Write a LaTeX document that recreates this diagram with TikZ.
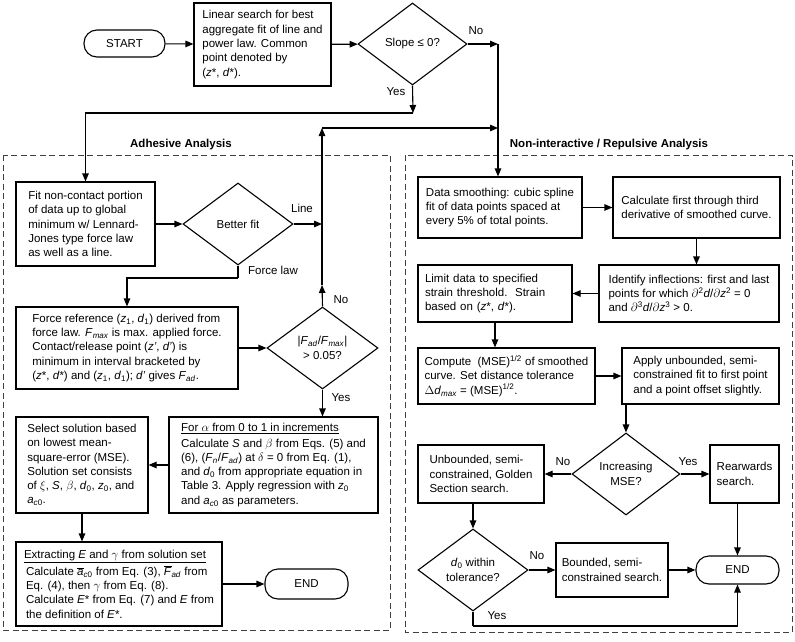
\documentclass[tikz,border=0pt]{standalone}
\usepackage{fontspec}
\setmainfont{Liberation Sans}
\usetikzlibrary{arrows.meta,shapes.geometric}
\newcommand\fs{\fontsize{11.5}{14.3}\selectfont}
\newcommand\iv[1]{\textit{#1}}
\newcommand\sbi[1]{\textsubscript{\textit{#1}}}
\newcommand\sbr[1]{\textsubscript{#1}}
\newcommand\shp[7]{%
  \pgfmathsetmacro\shw{#5-#3}\pgfmathsetmacro\shh{#6-#4}%
  \pgfmathsetmacro\shx{(#3+#5)/2}\pgfmathsetmacro\shy{(#4+#6)/2}%
  \node[#1, minimum width=\shw pt, minimum height=\shh pt] (#2) at (\shx,\shy) {#7};}
\tikzset{
  box/.style={draw, line width=1.1pt, align=left, inner sep=1pt, font=\fs},
  dia/.style={draw, diamond, line width=1.1pt, align=center, inner sep=0pt, font=\fs},
  term/.style={draw, rounded corners=13pt, line width=1.1pt, inner sep=1pt, font=\fs},
  arr/.style={line width=1.1pt, -{Triangle[length=8pt,width=6.5pt]}},
  ln/.style={line width=1.1pt},
  panel/.style={draw=black!75, line width=1pt, dash pattern=on 6pt off 3.5pt},
  lbl/.style={font=\fs, inner sep=0pt},
  ttl/.style={font=\fs\bfseries, inner sep=0pt},
}
\begin{document}
\begin{tikzpicture}[x=1pt,y=-1pt]
\useasboundingbox (0,0) rectangle (795,642);
% panels
\draw[panel] (3,155) rectangle (390,630);
\draw[panel] (405,155) rectangle (792,632);
\node[ttl] (t1) at (181,145) {Adhesive Analysis};
\node[ttl] (t2) at (609,145) {Non-interactive / Repulsive Analysis};
% top row
\shp{term}{start}{84}{30}{165}{57}{START}
\shp{box}{lin}{194}{3}{331}{86}{Linear search for best\\aggregate fit of line and\\power law. Common\\point denoted by\\(\iv{z}*, \iv{d}*).}
\shp{dia}{slope}{358}{3}{467}{85}{Slope ≤ 0?}
% left panel
\shp{box}{fit}{16}{182}{155}{266}{Fit non-contact portion\\of data up to global\\minimum w/ Lennard-\\Jones type force law\\as well as a line.}
\shp{dia}{better}{183}{183}{293}{265}{Better fit}
\shp{box}{force}{16}{307}{238}{389}{Force reference (\iv{z}\sbr{1}, \iv{d}\sbr{1}) derived from\\force law. \iv{F}\sbi{max} is max. applied force.\\Contact/release point (\iv{z'}, \iv{d'}) is\\minimum in interval bracketed by\\(\iv{z}*, \iv{d}*) and (\iv{z}\sbr{1}, \iv{d}\sbr{1}); \iv{d'} gives \iv{F}\sbi{ad}.}
\shp{dia}{fad}{267}{307}{378}{389}{|\iv{F}\sbi{ad}/\iv{F}\sbi{max}|\\> 0.05?}
\shp{box}{alpha}{169}{417}{378}{513}{\underline{For $\alpha$ from 0 to 1 in increments}\\[1pt]Calculate \iv{S} and $\beta$ from Eqs. (5) and\\(6), (\iv{F}\sbi{n}/\iv{F}\sbi{ad}) at $\delta$ = 0 from Eq. (1),\\and \iv{d}\sbr{0} from appropriate equation in\\Table 3. Apply regression with \iv{z}\sbr{0}\\and \iv{a}\textsubscript{\iv{c}0} as parameters.}
\shp{box}{sel}{16}{417}{148}{513}{Select solution based\\on lowest mean-\\square-error (MSE).\\Solution set consists\\of $\xi$, \iv{S}, $\beta$, \iv{d}\sbr{0}, \iv{z}\sbr{0}, and\\\iv{a}\textsubscript{\iv{c}0}.}
\shp{box}{ext}{16}{542}{222}{626}{\underline{Extracting \iv{E} and $\gamma$ from solution set}\\[3pt]\hspace*{2pt}Calculate $\overline{\hbox{\iv{a}}}$\textsubscript{\iv{c}0} from Eq. (3), $\overline{\hbox{\iv{F}}}$\sbi{ad} from\\\hspace*{2pt}Eq. (4), then $\gamma$ from Eq. (8).\\\hspace*{2pt}Calculate \iv{E}* from Eq. (7) and \iv{E} from\\\hspace*{2pt}the definition of \iv{E}*.}
\shp{term}{endA}{265}{569}{348}{599}{END}
% right panel
\shp{box}{data}{418}{177}{582}{238}{Data smoothing: cubic spline\\fit of data points spaced at\\every 5\% of total points.}
\shp{box}{calc}{613}{177}{780}{238}{Calculate first through third\\derivative of smoothed curve.}
\shp{box}{ident}{599}{265}{779}{322}{Identify inflections: first and last\\points for which $\partial$\textsuperscript{2}\iv{d}/$\partial$\iv{z}\textsuperscript{2} = 0\\and $\partial$\textsuperscript{3}\iv{d}/$\partial$\iv{z}\textsuperscript{3} > 0.}
\shp{box, text width=140pt}{limit}{418}{265}{572}{322}{Limit data to specified\\strain threshold.\ \ Strain\\based on (\iv{z}*, \iv{d}*).}
\shp{box}{comp}{418}{348}{595}{404}{Compute\ \ (MSE)\textsuperscript{1/2} of smoothed\\curve. Set distance tolerance\\$\Delta$\iv{d}\sbi{max} = (MSE)\textsuperscript{1/2}.}
\shp{box}{apply}{622}{348}{779}{404}{Apply unbounded, semi-\\constrained fit to first point\\and a point offset slightly.}
\shp{dia}{inc}{572}{433}{680}{515}{Increasing\\MSE?}
\shp{box}{unb}{418}{445}{544}{503}{Unbounded, semi-\\constrained, Golden\\Section search.}
\shp{box}{rear}{710}{445}{779}{503}{Rearwards\\search.}
\shp{dia}{dzero}{418}{529}{528}{611}{\iv{d}\sbr{0} within\\tolerance?}
\shp{box}{bnd}{556}{543}{668}{597}{Bounded, semi-\\constrained search.}
\shp{term}{endB}{696}{556}{779}{584}{END}
% junctions
\coordinate (jn) at (498,44);
\coordinate (jy) at (413,113);
\coordinate (jl) at (322,128);
\coordinate (jr) at (498,128);
\coordinate (jno) at (322,285);
\coordinate (jfl) at (238,278);
\coordinate (jyy) at (473,626);
% connectors top
\draw[arr] (start) -- (lin);
\draw[arr] (lin) -- (slope);
\draw[arr] (slope.east) -- (jn);
\draw[arr] (jn) -- (jn |- data.north);
\draw[arr] (slope.south) -- (jy);
\draw[arr] (jy) -| (fit.north);
% left
\draw[arr] (fit) -- (better);
\draw[arr] (better.east) -- (better.east -| jl);
\draw[ln] (better.south) -- (jfl);
\draw[arr] (jfl) -| (force.north);
\draw[arr] (force) -- (fad);
\draw[arr] (fad.north) -- (jno);
\draw[arr] (jno) -- (jl);
\draw[arr] (jl) -- (jr);
\draw[arr] (fad.south) -- (fad.south |- alpha.north);
\draw[arr] (alpha) -- (sel);
\draw[arr] (sel.south) -- (sel.south |- ext.north);
\draw[arr] (ext) -- (endA);
% right
\draw[arr] (data) -- (calc);
\draw[arr] (calc.south) -- (calc.south |- ident.north);
\draw[arr] (ident) -- (limit);
\draw[arr] (limit.south) -- (limit.south |- comp.north);
\draw[arr] (comp) -- (apply);
\draw[arr] (inc.north |- apply.south) -- (inc.north);
\draw[arr] (inc) -- (unb);
\draw[arr] (inc) -- (rear);
\draw[arr] (dzero.north |- unb.south) -- (dzero.north);
\draw[arr] (dzero) -- (bnd);
\draw[arr] (bnd) -- (endB);
\draw[arr] (endB.north |- rear.south) -- (endB.north);
\draw[ln] (dzero.south) -- (jyy);
\draw[arr] (jyy) -| (endB.south);
% labels
\node[lbl] (l1) at (476,31) {No};
\node[lbl] (l2) at (396,92) {Yes};
\node[lbl] (l3) at (302,208) {Line};
\node[lbl] (l4) at (273,270) {Force law};
\node[lbl] (l5) at (341,300) {No};
\node[lbl] (l6) at (341,398) {Yes};
\node[lbl] (l7) at (563,462) {No};
\node[lbl] (l8) at (688,462) {Yes};
\node[lbl] (l9) at (537,556) {No};
\node[lbl] (l10) at (497,616) {Yes};
\end{tikzpicture}
\end{document}
